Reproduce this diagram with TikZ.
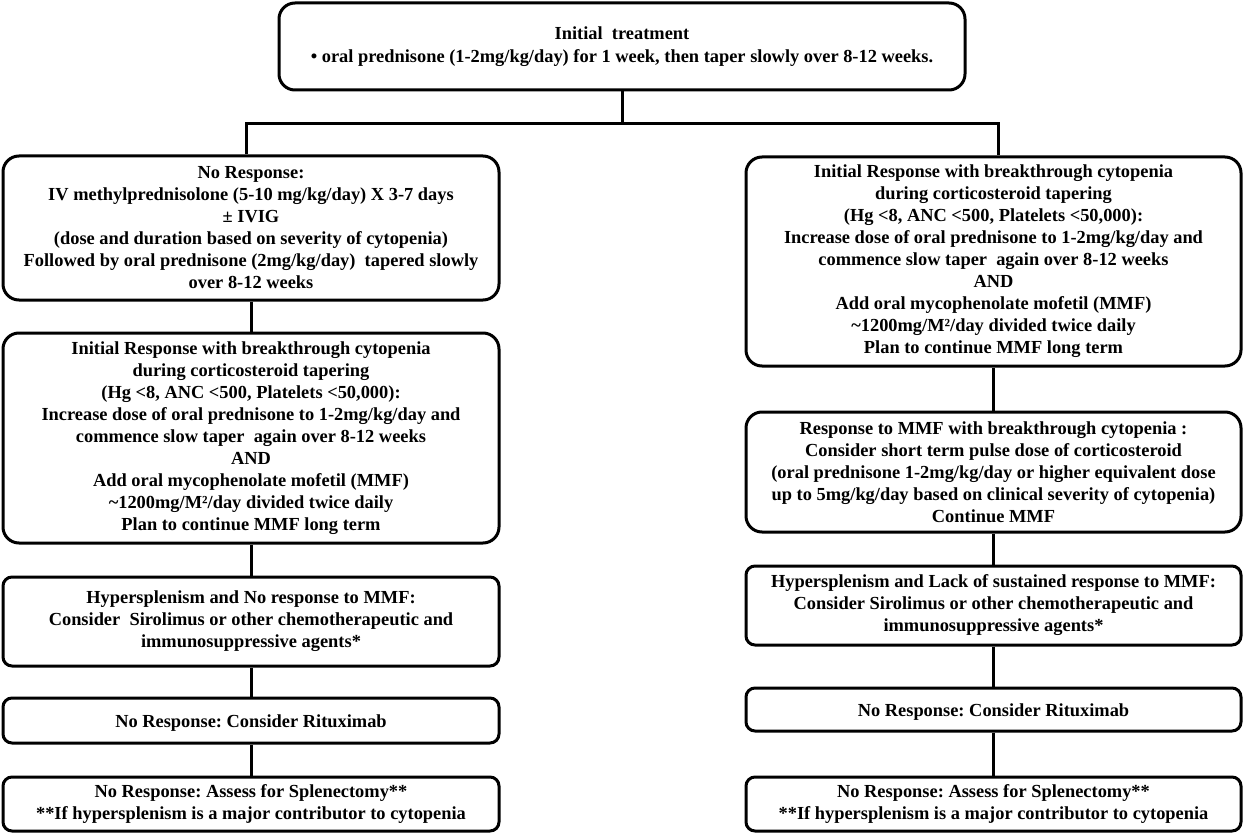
\documentclass[tikz,border=0pt]{standalone}
\usepackage{fontspec}
\setmainfont{Liberation Serif}
\frenchspacing
\begin{document}
\begin{tikzpicture}[x=1pt,y=-1pt,
  box/.style={draw,line width=3pt,rounded corners=16pt,align=center,inner sep=0pt,
    font=\fontsize{18.4}{22}\bfseries\selectfont,
    execute at begin node={\rule{0pt}{18.5pt}}},
  smallbox/.style={box,rounded corners=9pt},
  conn/.style={line width=3pt}]
\useasboundingbox[fill=white] (0,0) rectangle (1244,834);

\node[box,minimum width=686pt,minimum height=87pt] (top) at (622,46.5)
  {Initial\ \ treatment\\[1pt] • oral prednisone (1-2mg/kg/day) for 1 week, then taper slowly over 8-12 weeks.};

\node[box,minimum width=496pt,minimum height=144pt] (L1) at (251,228)
  {No Response:\\ IV methylprednisolone (5-10 mg/kg/day) X 3-7 days\\ ± IVIG\\
   (dose and duration based on severity of cytopenia)\\
   Followed by oral prednisone (2mg/kg/day)\ \ tapered slowly\\ over 8-12 weeks};

\node[box,minimum width=496pt,minimum height=210pt] (L2) at (251,438)
  {Initial Response with breakthrough cytopenia\\ during corticosteroid tapering\\
   (Hg <8, ANC <500, Platelets <50,000):\\
   Increase dose of oral prednisone to 1-2mg/kg/day and\\
   commence slow taper\ \ again over 8-12 weeks\\ AND\\
   Add oral mycophenolate mofetil (MMF)\\
   \textasciitilde1200mg/M²/day divided twice daily\\
   Plan to continue MMF long term};

\node[smallbox,minimum width=496pt,minimum height=89pt] (L3) at (251,621.5)
  {Hypersplenism and No response to MMF:\\
   Consider\ \ Sirolimus or other chemotherapeutic and\\ immunosuppressive agents*};

\node[smallbox,minimum width=496pt,minimum height=45pt] (L4) at (251,720.5)
  {No Response: Consider Rituximab};

\node[smallbox,minimum width=496pt,minimum height=54pt] (L5) at (251,804)
  {No Response: Assess for Splenectomy**\\ {**}If hypersplenism is a major contributor to cytopenia};

\node[box,minimum width=495pt,minimum height=209pt] (R1) at (993.5,261.5)
  {Initial Response with breakthrough cytopenia\\ during corticosteroid tapering\\
   (Hg <8, ANC <500, Platelets <50,000):\\
   Increase dose of oral prednisone to 1-2mg/kg/day and\\
   commence slow taper\ \ again over 8-12 weeks\\ AND\\
   Add oral mycophenolate mofetil (MMF)\\
   \textasciitilde1200mg/M²/day divided twice daily\\
   Plan to continue MMF long term};

\node[box,minimum width=495pt,minimum height=120pt] (R2) at (993.5,472)
  {Response to MMF with breakthrough cytopenia :\\
   Consider short term pulse dose of corticosteroid\\
   (oral prednisone 1-2mg/kg/day or higher equivalent dose\\
   up to 5mg/kg/day based on clinical severity of cytopenia)\\ Continue MMF};

\node[smallbox,minimum width=495pt,minimum height=79pt] (R3) at (993.5,605.5)
  {Hypersplenism and Lack of sustained response to MMF:\\
   Consider Sirolimus or other chemotherapeutic and\\ immunosuppressive agents*};

\node[smallbox,minimum width=495pt,minimum height=43pt] (R4) at (993.5,709.5)
  {No Response: Consider Rituximab};

\node[smallbox,minimum width=495pt,minimum height=54pt] (R5) at (993.5,804)
  {No Response: Assess for Splenectomy**\\ {**}If hypersplenism is a major contributor to cytopenia};

\coordinate (j) at (622,124);
\draw[conn] (top.south) -- (j);
\draw[conn] ([xshift=-5pt]L1.north) |- (j) -| ([xshift=4.5pt]R1.north);
\draw[conn] (L1) -- (L2);
\draw[conn] (L2) -- (L3);
\draw[conn] (L3) -- (L4);
\draw[conn] (L4) -- (L5);
\draw[conn] (R1) -- (R2);
\draw[conn] (R2) -- (R3);
\draw[conn] (R3) -- (R4);
\draw[conn] (R4) -- (R5);
\end{tikzpicture}
\end{document}
